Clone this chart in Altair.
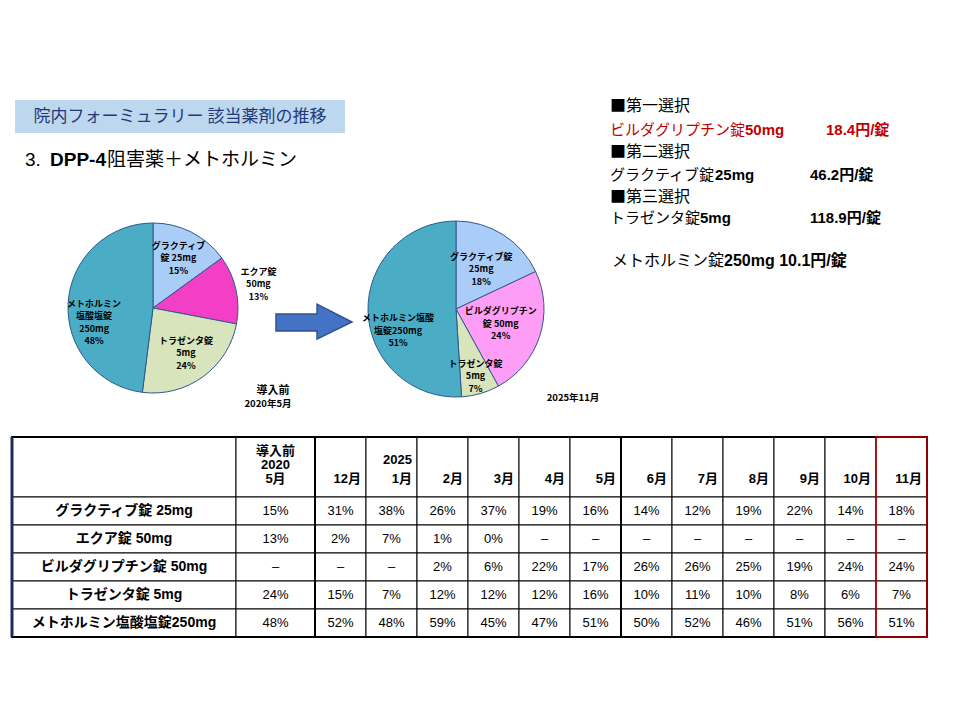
import altair as alt
import pandas as pd

# ---------------- data ----------------
period_labels = ["導入前\n2020\n5月", "12月", "2025\n1月", "2月", "3月", "4月", "5月",
                 "6月", "7月", "8月", "9月", "10月", "11月"]
drug_names = ["グラクティブ錠 25mg", "エクア錠 50mg", "ビルダグリプチン錠 50mg",
              "トラゼンタ錠 5mg", "メトホルミン塩酸塩錠250mg"]
drug_keys = ["グラクティブ", "エクア", "ビルダグリプチン", "トラゼンタ", "メトホルミン"]
share_gractive = [15, 31, 38, 26, 37, 19, 16, 14, 12, 19, 22, 14, 18]
share_equa = [13, 2, 7, 1, 0, None, None, None, None, None, None, None, None]
share_vilda = [None, None, None, 2, 6, 22, 17, 26, 26, 25, 19, 24, 24]
share_trazenta = [24, 15, 7, 12, 12, 12, 16, 10, 11, 10, 8, 6, 7]
share_metformin = [48, 52, 48, 59, 45, 47, 51, 50, 52, 46, 51, 56, 51]
series = [share_gractive, share_equa, share_vilda, share_trazenta, share_metformin]

pie_before_text = ["グラクティブ\n錠 25mg", "エクア錠\n50mg", "", "トラゼンタ錠\n5mg",
                   "メトホルミン\n塩酸塩錠\n250mg"]
pie_after_text = ["グラクティブ錠\n25mg", "", "ビルダグリプチン\n錠 50mg", "トラゼンタ錠\n5mg",
                  "メトホルミン塩酸\n塩錠250mg"]
pie_before_caption = ["導入前", "2020年5月"]
pie_after_caption = "2025年11月"

title_text = "院内フォーミュラリー 該当薬剤の推移"
subtitle_parts = ["3.", "DPP-4", "阻害薬＋メトホルミン"]
choice_heads = ["■第一選択", "■第二選択", "■第三選択"]
choice_drugs = ["ビルダグリプチン錠", "グラクティブ錠", "トラゼンタ錠"]
choice_doses = ["50mg", "25mg", "5mg"]
choice_prices = ["18.4円/錠", "46.2円/錠", "118.9円/錠"]
metformin_line = ["メトホルミン錠", "250mg  10.1円/錠"]

# ---------------- style / layout ----------------
drug_colors = ["#a9cdf7", "#f23fc6", "#fd9df5", "#d8e4bc", "#4bacc6"]
FONT_LAT = "Liberation Sans, Noto Sans CJK JP"
FONT_JP = "Noto Sans CJK JP"
OFF = 8  # page margin
RED = "#c00000"

color_scale = alt.Scale(domain=drug_keys, range=drug_colors)


def one():
    return pd.DataFrame({"k": [0]})


def txt(s, x, y, size, weight="normal", color="black", align="left",
        font=FONT_LAT, baseline="middle"):
    return alt.Chart(one()).mark_text(
        fontSize=size, fontWeight=weight, color=color, align=align,
        font=font, baseline=baseline
    ).encode(x=alt.value(x - OFF), y=alt.value(y - OFF), text=alt.value(s))


layers = []

# title box
layers.append(alt.Chart(one()).mark_rect(fill="#bdd7ee").encode(
    x=alt.value(15 - OFF), x2=alt.value(345 - OFF),
    y=alt.value(100 - OFF), y2=alt.value(133 - OFF)))
layers.append(txt(title_text, 180, 117, 17, color="#1f3a78", align="center", font=FONT_JP))

# subtitle
layers.append(txt(subtitle_parts[0], 25, 160, 19))
layers.append(txt(subtitle_parts[1], 50, 160, 19, weight="bold"))
layers.append(txt(subtitle_parts[2], 107, 160, 19, font=FONT_JP))

# right block
RS = 15
head_y = [106, 152, 197]
drug_y = [130, 175, 218]
price_x = [826, 810, 810]
for i in range(3):
    c = RED if i == 0 else "black"
    layers.append(txt(choice_heads[i], 610, head_y[i], 16, font=FONT_JP))
    layers.append(txt(choice_drugs[i], 610, drug_y[i], RS, color=c, font=FONT_JP))
    layers.append(txt(choice_doses[i], 610 + RS * len(choice_drugs[i]), drug_y[i], RS,
                      weight="bold", color=c))
    layers.append(txt(choice_prices[i], price_x[i], drug_y[i], RS, weight="bold", color=c))
layers.append(txt(metformin_line[0], 612, 261, 16, font=FONT_JP))
layers.append(txt(metformin_line[1], 612 + 16 * len(metformin_line[0]), 261, 16, weight="bold"))

# pies
LAB_LH = 12.5


def pie_df(col, texts, groups):
    rows = []
    for i, key in enumerate(drug_keys):
        v = series[i][col]
        if v is None:
            continue
        lab = f"{texts[i]}\n{v}%"
        rows.append(dict(drug=key, idx=i, share=v,
                         lab_in=lab if groups[i] == "in" else "",
                         lab_out=lab if groups[i] == "out" else "",
                         lab_left=lab if groups[i] == "left" else ""))
    return pd.DataFrame(rows)


def pie_layers(df, cx, cy, r, radii, dys):
    base = alt.Chart(df)
    out = [base.mark_arc(radius=r, stroke="#2e5a8a", strokeWidth=1).encode(
        theta=alt.Theta("share:Q", stack=True),
        color=alt.Color("drug:N", scale=color_scale, legend=None),
        order=alt.Order("idx:Q"),
        x=alt.value(cx - OFF), y=alt.value(cy - OFF))]
    for key in ["lab_in", "lab_out", "lab_left"]:
        n = max(s.count("\n") + 1 for s in df[key] if s) if any(df[key]) else 1
        out.append(base.mark_text(radius=radii[key], dy=dys[key] - (n - 1) * LAB_LH / 2,
                                  fontSize=9, fontWeight="bold", lineBreak="\n",
                                  lineHeight=LAB_LH, font=FONT_JP, color="black").encode(
            theta=alt.Theta("share:Q", stack=True),
            order=alt.Order("idx:Q"),
            text=f"{key}:N",
            x=alt.value(cx - OFF), y=alt.value(cy - OFF)))
    return out


df_before = pie_df(0, pie_before_text, ["in", "out", "", "in", "left"])
df_after = pie_df(12, pie_after_text, ["in", "", "in", "out", "left"])
layers += pie_layers(df_before, 153, 308, 85,
                     {"lab_in": 56, "lab_out": 108, "lab_left": 59},
                     {"lab_in": 0, "lab_out": 0, "lab_left": 18})
layers += pie_layers(df_after, 456, 309, 88,
                     {"lab_in": 47, "lab_out": 70, "lab_left": 58},
                     {"lab_in": 0, "lab_out": 0, "lab_left": 20})

layers.append(txt(pie_before_caption[0], 273, 391, 11, weight="bold", align="center", font=FONT_JP))
layers.append(txt(pie_before_caption[1], 268, 404, 9.5, weight="bold", align="center", font=FONT_JP))
layers.append(txt(pie_after_caption, 573, 398, 9.5, weight="bold", align="center", font=FONT_JP))

# arrow
ARROW = "M-1,-0.21 L0.08,-0.21 L0.08,-0.47 L1,0 L0.08,0.45 L0.08,0.24 L-1,0.24 Z"
layers.append(alt.Chart(one()).mark_point(
    shape=ARROW, size=76 * 76, filled=True, fill="#4472c4", stroke="#2f528f",
    strokeWidth=1.5, opacity=1).encode(x=alt.value(314 - OFF), y=alt.value(322 - OFF)))

# ---------------- table ----------------
col_w = [224, 79] + [51] * 12
row_h = [60] + [28] * 5
TX0, TY0 = 12, 437
xe = [0]
for w in col_w:
    xe.append(xe[-1] + w)
ye = [0]
for h in row_h:
    ye.append(ye[-1] + h)
TW, TH = xe[-1], ye[-1]
xs = alt.Scale(domain=[0, TW], range=[TX0 - OFF, TX0 + TW - OFF], nice=False, zero=False)
ys = alt.Scale(domain=[0, TH], range=[TY0 - OFF, TY0 + TH - OFF], nice=False, zero=False)

cells = pd.DataFrame([dict(x0=xe[c], x1=xe[c + 1], y0=ye[r], y1=ye[r + 1])
                      for r in range(len(row_h)) for c in range(len(col_w))])
layers.append(alt.Chart(cells).mark_rect(fill="white", stroke="black", strokeWidth=1).encode(
    x=alt.X("x0:Q", scale=xs, axis=None), x2="x1:Q",
    y=alt.Y("y0:Q", scale=ys, axis=None), y2="y1:Q"))

# thick separators
seps = pd.DataFrame({"x": [xe[2], xe[8]], "y0": [0, 0], "y1": [TH, TH]})
layers.append(alt.Chart(seps).mark_rule(color="black", strokeWidth=2).encode(
    x=alt.X("x:Q", scale=xs, axis=None), y=alt.Y("y0:Q", scale=ys, axis=None), y2="y1:Q"))

frame = pd.DataFrame({"x0": [0], "x1": [TW], "y0": [0], "y1": [TH]})
layers.append(alt.Chart(frame).mark_rect(fill="transparent", stroke="black", strokeWidth=2).encode(
    x=alt.X("x0:Q", scale=xs, axis=None), x2="x1:Q",
    y=alt.Y("y0:Q", scale=ys, axis=None), y2="y1:Q"))
layers.append(alt.Chart(frame).mark_rule(color="#1f2a60", strokeWidth=3).encode(
    x=alt.X("x0:Q", scale=xs, axis=None), y=alt.Y("y0:Q", scale=ys, axis=None), y2="y1:Q"))

# values
vals = []
for r, name in enumerate(drug_names):
    for c in range(len(period_labels)):
        v = series[r][c]
        vals.append(dict(tx=(xe[c + 1] + xe[c + 2]) / 2, ty=(ye[r + 1] + ye[r + 2]) / 2,
                         text=f"{v}%" if v is not None else "–"))
layers.append(alt.Chart(pd.DataFrame(vals)).mark_text(
    fontSize=13, font=FONT_LAT, color="black", baseline="middle").encode(
    x=alt.X("tx:Q", scale=xs, axis=None), y=alt.Y("ty:Q", scale=ys, axis=None), text="text:N"))

# row labels
rl = pd.DataFrame([dict(tx=(xe[0] + xe[1]) / 2, ty=(ye[r + 1] + ye[r + 2]) / 2, text=n)
                   for r, n in enumerate(drug_names)])
layers.append(alt.Chart(rl).mark_text(
    fontSize=14, fontWeight="bold", font=FONT_LAT, color="black", baseline="middle").encode(
    x=alt.X("tx:Q", scale=xs, axis=None), y=alt.Y("ty:Q", scale=ys, axis=None), text="text:N"))

# headers (multi-line text: first line placed so the last line sits at the bottom)
H_BOTTOM = ye[1] - 11
LH_FIRST, LH_REST = 14, 19
h_first = pd.DataFrame([dict(tx=(xe[1] + xe[2]) / 2,
                             ty=H_BOTTOM - period_labels[0].count("\n") * LH_FIRST,
                             text=period_labels[0])])
layers.append(alt.Chart(h_first).mark_text(
    fontSize=13, fontWeight="bold", font=FONT_LAT, color="black", baseline="bottom",
    lineBreak="\n", lineHeight=LH_FIRST).encode(
    x=alt.X("tx:Q", scale=xs, axis=None), y=alt.Y("ty:Q", scale=ys, axis=None), text="text:N"))
h_rest = pd.DataFrame([dict(tx=xe[p + 2], ty=H_BOTTOM - period_labels[p].count("\n") * LH_REST,
                            text=period_labels[p])
                       for p in range(1, len(period_labels))])
layers.append(alt.Chart(h_rest).mark_text(
    fontSize=13, fontWeight="bold", font=FONT_LAT, color="black", baseline="bottom",
    align="right", dx=-5, lineBreak="\n", lineHeight=LH_REST).encode(
    x=alt.X("tx:Q", scale=xs, axis=None), y=alt.Y("ty:Q", scale=ys, axis=None), text="text:N"))

# highlight of latest month
hl = pd.DataFrame({"x0": [xe[-2]], "x1": [xe[-1]], "y0": [0], "y1": [TH]})
layers.append(alt.Chart(hl).mark_rect(fill="transparent", stroke=RED, strokeWidth=1.5).encode(
    x=alt.X("x0:Q", scale=xs, axis=None), x2="x1:Q",
    y=alt.Y("y0:Q", scale=ys, axis=None), y2="y1:Q"))

chart = alt.layer(*layers).properties(
    width=944, height=704, autosize="none", padding=0, background="white"
).configure_view(stroke=None)

chart.save("out.html", embed_options={"renderer": "svg", "actions": False})
